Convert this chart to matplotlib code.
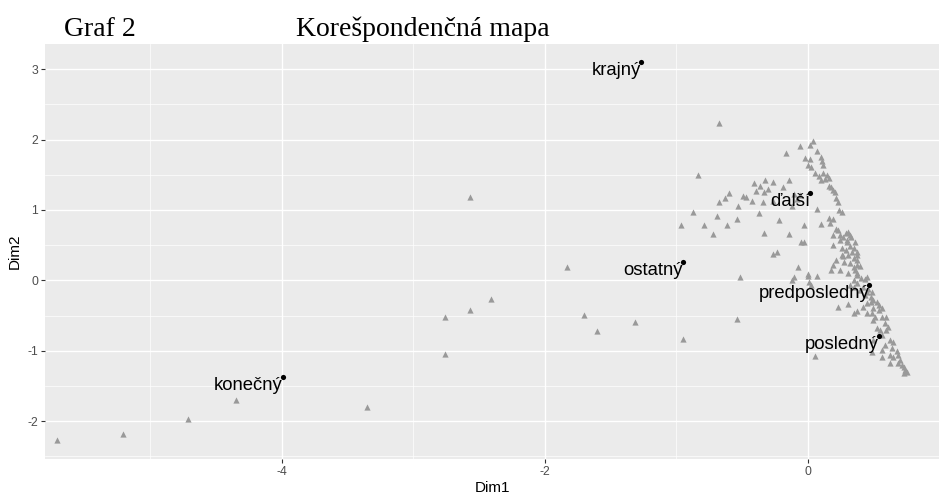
import matplotlib
matplotlib.use("Agg")
import matplotlib.pyplot as plt
from matplotlib.ticker import MultipleLocator

# --- data: supplementary (column) points, gray triangles ---
dim1_points = [
    -5.71, -5.21, -4.71, -4.35, -3.35, -2.76, -2.57, -2.41, -2.76, -2.57,
    -1.83, -1.70, -1.60, -1.31, -0.95, -0.83, -0.87, -0.96, -0.79, -0.72,
    -0.69, -0.67, -0.67, -0.54, 0.06, -0.51,
    -0.06, 0.02, 0.04, -0.16, 0.07, -0.02, 0.02, 0.10, 0.11, 0.00,
    0.03, 0.12, 0.06, 0.09, 0.12, 0.15, 0.13, 0.16, 0.10, 0.16,
    0.18, 0.19, 0.21, 0.22, 0.23, 0.24, 0.26,
    -0.41, -0.36, -0.32, -0.30, -0.26, -0.19, -0.14, -0.10, -0.06, -0.08,
    -0.12, -0.26, -0.34, -0.39, -0.49, -0.47, -0.42, -0.53, -0.60, -0.63,
    -0.33, -0.61, -0.54, -0.37, -0.33, -0.22, -0.14, -0.05, -0.03,
    0.07, 0.10, 0.16, 0.17, 0.19, 0.22, 0.23, 0.19, 0.25, 0.27,
    0.29, 0.31, 0.32, 0.30, 0.25, 0.19, 0.26, 0.29, 0.32, 0.35,
    0.38, 0.38, 0.31, 0.35, 0.38, 0.26, 0.22, 0.28, 0.32, 0.35,
    0.38, 0.36, 0.38, 0.19, 0.18, 0.25, 0.31, 0.38, 0.45, 0.41,
    0.35, -0.26, -0.23, -0.07, -0.10, -0.12, 0.00, 0.01, 0.07, 0.03,
    0.32, 0.35, 0.38, 0.42, 0.40, 0.45, 0.49, 0.44, 0.48, 0.50,
    0.53, 0.54, 0.48, 0.45, 0.42, 0.38, 0.35, 0.23, 0.31, 0.50,
    0.54, 0.57, 0.49, 0.51, 0.57, 0.60, 0.50, 0.59, 0.61, 0.55,
    0.60, 0.57, 0.63, 0.65, 0.59, 0.57, 0.64, 0.68, 0.63, 0.65,
    0.69, 0.70, 0.69, 0.72, 0.73, 0.74, 0.76, 0.73, 0.63, 0.57,
    0.49, 0.50, 0.53, 0.45,
    0.30, 0.33, 0.36, 0.27, 0.34, 0.40, 0.44, 0.46, -0.03, 0.00,
]
dim2_points = [
    -2.27, -2.18, -1.97, -1.70, -1.80, -0.52, -0.42, -0.26, -1.05, 1.19,
    0.19, -0.49, -0.72, -0.59, -0.83, 1.50, 0.97, 0.78, 0.78, 0.66,
    0.92, 1.12, 2.24, -0.55, -1.07, 0.05,
    1.91, 1.93, 1.98, 1.81, 1.84, 1.74, 1.73, 1.76, 1.69, 1.64,
    1.61, 1.64, 1.53, 1.49, 1.53, 1.50, 1.44, 1.46, 1.43, 1.34,
    1.33, 1.29, 1.26, 1.17, 1.12, 1.00, 0.97,
    1.39, 1.34, 1.43, 1.30, 1.40, 1.33, 1.42, 1.23, 1.22, 1.15,
    1.05, 1.13, 1.12, 1.27, 1.20, 1.19, 1.13, 1.05, 1.24, 1.17,
    1.26, 0.78, 0.87, 0.96, 0.68, 0.86, 0.66, 0.55, 0.79,
    1.02, 0.80, 0.89, 0.82, 0.87, 0.73, 0.72, 0.65, 0.65, 0.62,
    0.68, 0.69, 0.65, 0.58, 0.58, 0.50, 0.46, 0.43, 0.49, 0.46,
    0.41, 0.36, 0.36, 0.32, 0.29, 0.36, 0.29, 0.26, 0.25, 0.19,
    0.22, 0.14, 0.11, 0.22, 0.14, 0.14, 0.11, 0.08, 0.05, 0.04,
    0.01, 0.38, 0.41, 0.19, 0.05, 0.01, 0.06, -0.02, 0.06, -0.06,
    -0.06, -0.09, -0.04, -0.09, -0.14, -0.16, -0.16, -0.21, -0.23, -0.28,
    -0.31, -0.35, -0.31, -0.32, -0.38, -0.43, -0.46, -0.38, -0.33, -0.39,
    -0.42, -0.39, -0.46, -0.52, -0.52, -0.52, -0.56, -0.60, -0.66, -0.70,
    -0.70, -0.78, -0.85, -0.87, -0.92, -0.99, -0.96, -1.00, -1.06, -1.09,
    -1.06, -1.13, -1.17, -1.20, -1.23, -1.27, -1.30, -1.32, -1.17, -1.09,
    -1.02, -0.85, -0.68, -0.46,
    0.54, 0.62, 0.55, 0.34, 0.40, 0.20, 0.02, -0.12, 0.55, 0.09,
]

# --- data: labelled (row) points, black dots ---
labels = ["krajný", "ďalší", "ostatný", "predposledný", "posledný", "konečný"]
dim1_labels = [-1.27, 0.02, -0.95, 0.47, 0.54, -3.99]
dim2_labels = [3.11, 1.24, 0.26, -0.06, -0.79, -1.37]

x_ticks = [-4, -2, 0]
y_ticks = [-2, -1, 0, 1, 2, 3]

fig = plt.figure(figsize=(9.4, 4.95), dpi=100)
ax = fig.add_axes([45 / 940, 36 / 495, (939 - 45) / 940, (459 - 44) / 495])
ax.set_facecolor("#EBEBEB")
for s in ax.spines.values():
    s.set_visible(False)

ax.set_xlim(-5.80, 1.0)
ax.set_ylim(-2.54, 3.36)
ax.set_xticks(x_ticks)
ax.set_yticks(y_ticks)
ax.set_xticklabels([f"{v:g}" for v in x_ticks])
ax.set_yticklabels([f"{v:g}" for v in y_ticks])
ax.xaxis.set_minor_locator(MultipleLocator(1))
ax.yaxis.set_minor_locator(MultipleLocator(0.5))
ax.grid(which="major", color="white", linewidth=1.0)
ax.grid(which="minor", color="white", linewidth=0.5)
ax.set_axisbelow(True)
ax.tick_params(which="major", length=2.75, width=0.8, color="#333333",
               labelcolor="#4D4D4D", labelsize=8.8, pad=2.2)
ax.tick_params(which="minor", length=0)
for lab in ax.get_xticklabels() + ax.get_yticklabels():
    lab.set_family("Liberation Sans")

ax.scatter(dim1_points, dim2_points, marker="^", s=20, color="#999999",
           linewidths=0, zorder=2)
ax.scatter(dim1_labels, dim2_labels, marker="o", s=14, color="black",
           linewidths=0, zorder=3)
for t, x, y in zip(labels, dim1_labels, dim2_labels):
    ax.text(x, y, t, ha="right", va="top", fontsize=13.3,
            family="Liberation Sans", color="black", zorder=4)

ax.set_xlabel("Dim1", family="Liberation Sans", fontsize=11, labelpad=2)
ax.set_ylabel("Dim2", family="Liberation Sans", fontsize=11, labelpad=4)

fig.text(63.5 / 940, 1 - 36 / 495, "Graf 2", family="Liberation Serif",
         fontsize=20, va="baseline", ha="left")
fig.text(296 / 940, 1 - 36 / 495, "Korešpondenčná mapa", family="Liberation Serif",
         fontsize=20, va="baseline", ha="left")

fig.savefig("out.png", dpi=100)
